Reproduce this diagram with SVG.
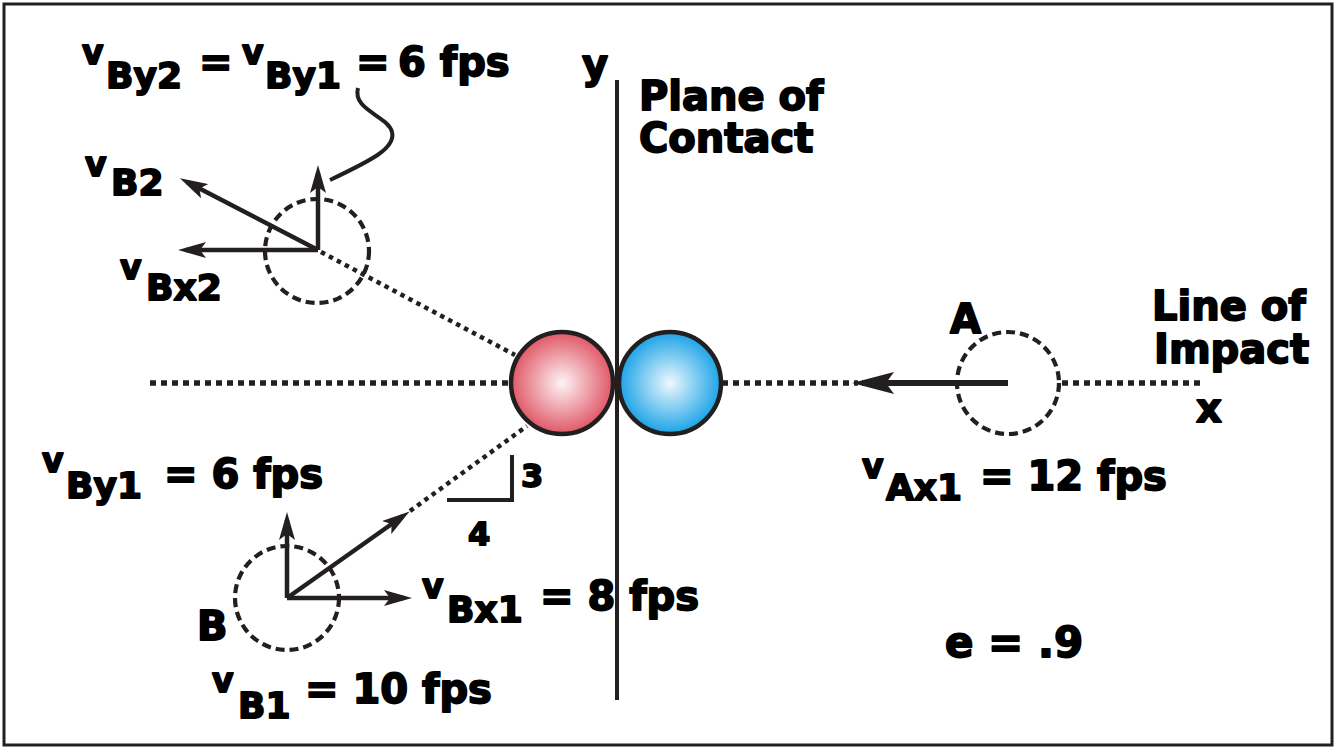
<svg xmlns="http://www.w3.org/2000/svg" width="1336" height="749" viewBox="0 0 1336 749">
<defs>
<style>
.t{font-family:"DejaVu Sans","Liberation Sans",sans-serif;font-weight:bold;fill:#000;stroke:#000;stroke-width:1.8px;stroke-linejoin:round}
.v{font-size:33px}
.s{font-size:36px}
.m{font-size:40px}
.vec{stroke:#231f20;stroke-width:4.5;fill:none;marker-end:url(#ah)}
.dot{stroke:#231f20;stroke-width:4.5;fill:none;stroke-dasharray:4.5 4.5}
.dotx{stroke:#231f20;stroke-width:5.5;fill:none;stroke-dasharray:6 5}
.dash{stroke:#231f20;stroke-width:4.2;fill:none;stroke-dasharray:9 5}
.solid{stroke:#231f20;stroke-width:4;fill:none}
</style>
<marker id="ah" markerUnits="userSpaceOnUse" viewBox="0 0 28 16" refX="20" refY="8" markerWidth="28" markerHeight="16" orient="auto">
<path d="M0,0 L28,8 L0,16 L6,8 Z" fill="#231f20"/>
</marker>
<marker id="ahA" markerUnits="userSpaceOnUse" viewBox="0 0 42 22" refX="32" refY="11" markerWidth="42" markerHeight="22" orient="auto">
<path d="M0,0 L42,11 L0,22 L8,11 Z" fill="#231f20"/>
</marker>
<radialGradient id="gRed" cx="0.5" cy="0.5" r="0.5">
<stop offset="0" stop-color="#fdf4f5"/>
<stop offset="1" stop-color="#e05766"/>
</radialGradient>
<radialGradient id="gBlue" cx="0.5" cy="0.5" r="0.5">
<stop offset="0" stop-color="#eef8fe"/>
<stop offset="1" stop-color="#1ba3e6"/>
</radialGradient>
</defs>
<rect x="0" y="0" width="1336" height="749" fill="#fff"/>
<rect id="frame" x="4" y="4" width="1328" height="741" fill="none" stroke="#231f20" stroke-width="3"/>

<g id="connectors">
<line class="dotx" x1="150" y1="383" x2="512" y2="383"/>
<line class="dotx" x1="722" y1="383" x2="858" y2="383"/>
<line class="dotx" x1="1062" y1="383" x2="1200" y2="383"/>
<line class="dot" x1="321" y1="252" x2="515" y2="355"/>
<line class="dot" x1="410" y1="511" x2="527" y2="426"/>
<line class="solid" x1="617" y1="80" x2="617" y2="700"/>
<line stroke="#231f20" stroke-width="6" marker-end="url(#ahA)" x1="1008" y1="383" x2="862" y2="383"/>
<line class="vec" x1="318" y1="250" x2="318" y2="173"/>
<line class="vec" x1="318" y1="250" x2="186" y2="250"/>
<line class="vec" x1="318" y1="250" x2="187" y2="182"/>
<line class="vec" x1="287" y1="598" x2="287" y2="520"/>
<line class="vec" x1="287" y1="598" x2="404" y2="598"/>
<line class="vec" x1="287" y1="598" x2="403" y2="516"/>
<path class="solid" stroke-width="4" d="M330,180 C372,160 396,148 392,132 C388,116 352,110 358,88"/>
<path class="solid" stroke-width="4" d="M512,455 L512,500 L447,500"/>
</g>

<g id="ball-red"><circle cx="562" cy="383" r="51" fill="url(#gRed)" stroke="#231f20" stroke-width="4.5"/></g>
<g id="ball-blue"><circle cx="670" cy="383" r="51" fill="url(#gBlue)" stroke="#231f20" stroke-width="4.5"/></g>
<g id="circle-B2"><circle cx="317" cy="251" r="52" class="dash"/></g>
<g id="circle-B1"><circle cx="287" cy="598" r="52" class="dash"/></g>
<g id="circle-A"><circle cx="1008" cy="383" r="51" class="dash"/></g>

<g id="labels">
<text class="t"><tspan class="v" x="82" y="64">v</tspan><tspan class="s" x="106" y="88">By2</tspan><tspan class="m" x="199" y="76">=</tspan><tspan class="v" x="242" y="64">v</tspan><tspan class="s" x="265" y="88">By1</tspan><tspan class="m" x="356" y="76">=</tspan><tspan class="m" x="398" y="76">6 fps</tspan></text>
<text class="t m" x="582" y="78">y</text>
<text class="t m" x="639" y="110">Plane of</text>
<text class="t m" x="639" y="152">Contact</text>
<text class="t"><tspan class="v" x="85" y="176">v</tspan><tspan class="s" x="111" y="195">B2</tspan></text>
<text class="t"><tspan class="v" x="120" y="279">v</tspan><tspan class="s" x="146" y="300">Bx2</tspan></text>
<text class="t m" x="950" y="333">A</text>
<text class="t m" x="1152" y="320">Line of</text>
<text class="t m" x="1154" y="363">Impact</text>
<text class="t m" x="1196" y="422">x</text>
<text class="t"><tspan class="v" x="862" y="478">v</tspan><tspan class="s" x="886" y="500">Ax1</tspan><tspan class="m" x="980" y="490">= 12 fps</tspan></text>
<text class="t"><tspan class="v" x="42" y="472">v</tspan><tspan class="s" x="66" y="498">By1</tspan><tspan class="m" x="164" y="488">= 6 fps</tspan></text>
<text class="t" style="font-size:32px" x="521" y="487">3</text>
<text class="t" style="font-size:32px" x="468" y="545">4</text>
<text class="t m" x="197" y="640">B</text>
<text class="t"><tspan class="v" x="422" y="598">v</tspan><tspan class="s" x="447" y="622">Bx1</tspan><tspan class="m" x="540" y="610">= 8 fps</tspan></text>
<text class="t"><tspan class="v" x="212" y="692">v</tspan><tspan class="s" x="238" y="718">B1</tspan><tspan class="m" x="305" y="703">= 10 fps</tspan></text>
<text class="t" style="font-size:42px" x="945" y="657">e = .9</text>
</g>
</svg>
